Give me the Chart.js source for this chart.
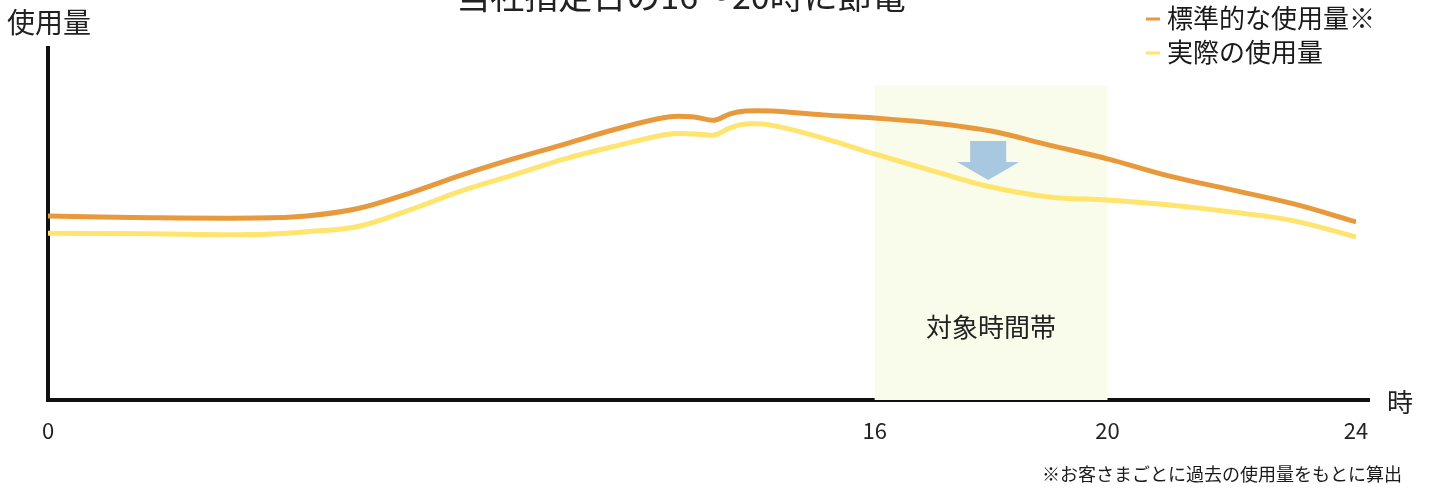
<!DOCTYPE html>
<html>
<head>
<meta charset="utf-8">
<script src="https://cdn.jsdelivr.net/npm/chart.js@4/dist/chart.umd.min.js"></script>
<style>
  html, body { margin: 0; padding: 0; background: #fff; }
  #wrap { width: 1429px; height: 488px; }
</style>
</head>
<body>
<div id="wrap"><canvas id="usageChart"></canvas></div>
<script>
// hours of day
const hours = [0, 2, 4, 5, 6, 7, 8, 9, 10, 11, 12, 12.5, 12.9, 13.2, 13.5, 14, 15, 16, 17, 18, 19, 20, 21, 22, 23, 24];
// standard usage (orange)
const standardUsage = [52.3, 51.8, 51.7, 52.3, 54.4, 58.8, 63.9, 68.5, 72.7, 77.0, 80.4, 80.4, 79.5, 81.3, 82.1, 82.1, 81.0, 80.1, 78.7, 76.4, 72.4, 68.5, 63.6, 59.7, 55.7, 50.6];
// actual usage (yellow)
const actualUsage = [47.4, 47.2, 47.0, 47.8, 49.3, 54.0, 59.4, 63.9, 68.5, 72.2, 75.5, 75.6, 75.3, 77.3, 78.4, 78.1, 74.4, 69.9, 65.1, 60.5, 57.7, 56.8, 55.4, 53.4, 50.9, 46.3];
const xTicks = [0, 16, 20, 24];
const targetStart = 16;
const targetEnd = 20;

const seriesLabels = ['標準的な使用量※', '実際の使用量'];
const seriesColors = ['#E8993B', '#FFE46E'];

const font = '"Noto Sans CJK JP", "Noto Sans", sans-serif';

// the picture's time axis is not uniform: 0-16h, 16-20h, 20-24h have their own widths
const breakHours = [0, 16, 20, 24];
const breakFrac = [0, 0.632, 0.810, 1];

function hourToFrac(v) {
  for (let i = 1; i < breakHours.length; i++) {
    if (v <= breakHours[i] || i === breakHours.length - 1) {
      const t = (v - breakHours[i - 1]) / (breakHours[i] - breakHours[i - 1]);
      return breakFrac[i - 1] + t * (breakFrac[i] - breakFrac[i - 1]);
    }
  }
  return 0;
}
function fracToHour(f) {
  for (let i = 1; i < breakFrac.length; i++) {
    if (f <= breakFrac[i] || i === breakFrac.length - 1) {
      const t = (f - breakFrac[i - 1]) / (breakFrac[i] - breakFrac[i - 1]);
      return breakHours[i - 1] + t * (breakHours[i] - breakHours[i - 1]);
    }
  }
  return 0;
}

class PiecewiseScale extends Chart.LinearScale {
  getPixelForValue(value) {
    return this.getPixelForDecimal(hourToFrac(value));
  }
  getValueForPixel(pixel) {
    return fracToHour(this.getDecimalForPixel(pixel));
  }
}
PiecewiseScale.id = 'piecewise';
PiecewiseScale.defaults = Chart.LinearScale.defaults;
Chart.register(PiecewiseScale);

// band, arrow and all the loose texts
const decorations = {
  id: 'decorations',
  beforeDatasetsDraw(chart) {
    const { ctx, scales: { x, y } } = chart;
    const x1 = x.getPixelForValue(targetStart);
    const x2 = x.getPixelForValue(targetEnd);
    const top = y.getPixelForValue(89.5);
    ctx.save();
    ctx.fillStyle = '#F9FCEA';
    ctx.fillRect(x1, top, x2 - x1, y.bottom - top);
    ctx.fillStyle = '#222';
    ctx.font = '26px ' + font;
    ctx.textAlign = 'center';
    ctx.textBaseline = 'middle';
    ctx.fillText('対象時間帯', (x1 + x2) / 2, y.getPixelForValue(20.7));
    ctx.restore();
  },
  afterDatasetsDraw(chart) {
    const { ctx, scales: { x, y } } = chart;
    // down arrow
    const ax = x.getPixelForValue(17.95);
    const yTop = y.getPixelForValue(73.6);
    const yMid = y.getPixelForValue(67.6);
    const yTip = y.getPixelForValue(62.5);
    ctx.save();
    ctx.fillStyle = '#A8C7E0';
    ctx.beginPath();
    ctx.moveTo(ax - 18, yTop);
    ctx.lineTo(ax + 18, yTop);
    ctx.lineTo(ax + 18, yMid);
    ctx.lineTo(ax + 31, yMid);
    ctx.lineTo(ax, yTip);
    ctx.lineTo(ax - 31, yMid);
    ctx.lineTo(ax - 18, yMid);
    ctx.closePath();
    ctx.fill();
    ctx.restore();
  },
  afterDraw(chart) {
    const { ctx, chartArea } = chart;
    ctx.save();
    // x axis runs a little past 24h
    ctx.strokeStyle = '#111';
    ctx.lineWidth = 4;
    ctx.beginPath();
    ctx.moveTo(chartArea.right - 2, chartArea.bottom);
    ctx.lineTo(chartArea.right + 14, chartArea.bottom);
    ctx.stroke();

    ctx.fillStyle = '#222';
    ctx.textBaseline = 'alphabetic';
    // title, cut by the top edge
    ctx.font = '34px ' + font;
    ctx.textAlign = 'center';
    ctx.fillText('当社指定日の16～20時に節電', 681, 9);
    // axis names
    ctx.textAlign = 'left';
    ctx.font = '28px ' + font;
    ctx.fillText('使用量', 7, 33);
    ctx.font = '26px ' + font;
    ctx.textBaseline = 'middle';
    ctx.fillText('時', 1387, 402);
    // legend
    ctx.font = '26px ' + font;
    seriesLabels.forEach((label, i) => {
      const ly = 18 + i * 34;
      ctx.strokeStyle = seriesColors[i];
      ctx.lineWidth = 3;
      ctx.beginPath();
      ctx.moveTo(1146, ly + 1);
      ctx.lineTo(1160, ly + 1);
      ctx.stroke();
      ctx.fillStyle = '#1a1a1a';
      ctx.fillText(label, 1167, ly);
    });
    // footnote
    ctx.font = '18px ' + font;
    ctx.textAlign = 'right';
    ctx.textBaseline = 'alphabetic';
    ctx.fillText('※お客さまごとに過去の使用量をもとに算出', 1402, 481);
    ctx.restore();
  }
};

new Chart(document.getElementById('usageChart'), {
  type: 'line',
  data: {
    datasets: [
      {
        label: seriesLabels[0],
        data: hours.map((h, i) => ({ x: h, y: standardUsage[i] })),
        borderColor: seriesColors[0],
        borderWidth: 5,
        pointRadius: 0,
        tension: 0.35
      },
      {
        label: seriesLabels[1],
        data: hours.map((h, i) => ({ x: h, y: actualUsage[i] })),
        borderColor: seriesColors[1],
        borderWidth: 5,
        pointRadius: 0,
        tension: 0.35
      }
    ]
  },
  options: {
    responsive: true,
    maintainAspectRatio: false,
    animation: false,
    layout: { padding: { left: 48, right: 73, top: 48, bottom: 0 } },
    plugins: {
      legend: { display: false },
      tooltip: { enabled: false }
    },
    scales: {
      x: {
        type: 'piecewise',
        min: 0,
        max: 24,
        grid: { display: false, drawTicks: false },
        border: { display: true, color: '#111', width: 4 },
        afterBuildTicks: scale => { scale.ticks = xTicks.map(v => ({ value: v })); },
        afterFit: scale => { scale.height = 88; },
        ticks: {
          padding: 17,
          color: '#222',
          font: { size: 22, family: font },
          maxRotation: 0,
          autoSkip: false,
          callback: v => String(v)
        }
      },
      y: {
        min: 0,
        max: 100,
        grid: { display: false, drawTicks: false },
        border: { display: true, color: '#111', width: 4 },
        ticks: { display: false },
        afterFit: scale => { scale.width = 0; }
      }
    }
  },
  plugins: [decorations]
});
</script>
</body>
</html>
